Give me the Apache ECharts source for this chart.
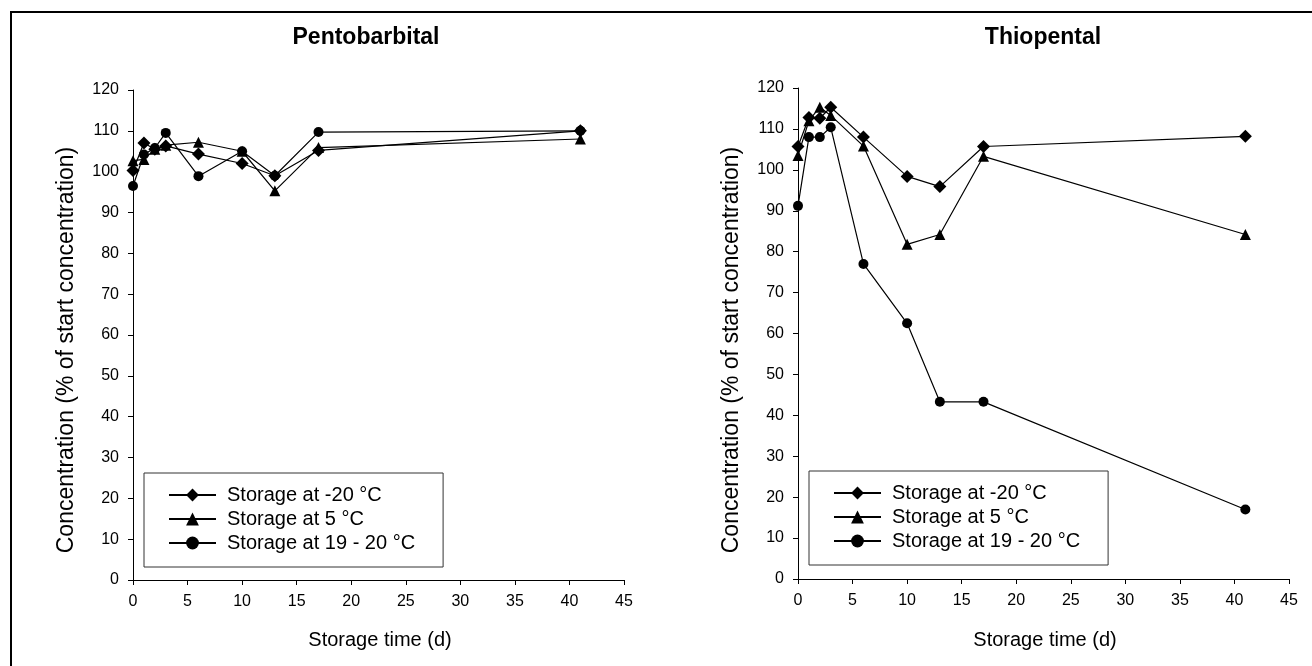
<!DOCTYPE html>
<html><head><meta charset="utf-8">
<script src="https://cdn.jsdelivr.net/npm/echarts@6/dist/echarts.min.js"></script>
<style>html,body{margin:0;padding:0;background:#fff}#c{width:1312px;height:666px}</style>
</head><body><div id="c"></div>
<script>
const days = [0, 1, 2, 3, 6, 10, 13, 17, 41];
const seriesNames = ['Storage at -20 °C', 'Storage at 5 °C', 'Storage at 19 - 20 °C'];
const pentoMinus20 = [100.3, 107.0, 105.5, 106.3, 104.3, 102.0, 99.0, 105.2, 110.0];
const pento5 = [102.7, 103.0, 105.5, 106.5, 107.2, 105.0, 95.3, 105.9, 108.0];
const pento19 = [96.5, 104.2, 105.8, 109.5, 98.9, 105.0, 99.0, 109.7, 110.0];
const thioMinus20 = [105.7, 112.8, 112.6, 115.3, 108.0, 98.4, 95.9, 105.7, 108.2];
const thio5 = [103.5, 112.0, 115.3, 113.3, 105.8, 81.8, 84.2, 103.3, 84.2];
const thio19 = [91.2, 108.0, 108.0, 110.4, 77.0, 62.5, 43.3, 43.3, 17.0];
const chartTitles = ['Pentobarbital', 'Thiopental'];
const yAxisTitle = 'Concentration (% of start concentration)';
const xAxisTitle = 'Storage time (d)';

const FONT = '"Liberation Sans", Arial, sans-serif';
const symbols = ['diamond', 'triangle', 'circle'];
const sizes = [13, 11, 10];

function pairs(ys) { return days.map((d, i) => [d, ys[i]]); }

function mkSeries(idx, arrs) {
  return arrs.map((ys, k) => ({
    type: 'line', name: seriesNames[k], xAxisIndex: idx, yAxisIndex: idx,
    data: pairs(ys), symbol: symbols[k], symbolSize: sizes[k], showSymbol: true,
    lineStyle: { color: '#000', width: 1.2 }, itemStyle: { color: '#000' },
    emphasis: { disabled: true }, animation: false, z: 3 + k
  }));
}

function xAxis(idx) {
  return {
    type: 'value', gridIndex: idx, min: 0, max: 45, interval: 5,
    axisLine: { lineStyle: { color: '#000', width: 1 } },
    axisTick: { show: true, length: 5, lineStyle: { color: '#000' } },
    axisLabel: { color: '#000', fontSize: 16, fontFamily: FONT, margin: 14 },
    splitLine: { show: false }
  };
}
function yAxis(idx) {
  return {
    type: 'value', gridIndex: idx, min: 0, max: 120, interval: 10,
    axisLine: { show: true, lineStyle: { color: '#000', width: 1 } },
    axisTick: { show: true, length: 5, lineStyle: { color: '#000' } },
    axisLabel: { color: '#000', fontSize: 16, fontFamily: FONT, margin: 14 },
    splitLine: { show: false }
  };
}
function legend(idx, left, top) {
  return {
    orient: 'vertical', left: left, top: top,
    data: seriesNames,
    itemWidth: 47, itemHeight: 16, itemGap: 4,
    padding: [12, 28, 14, 24],
    borderColor: '#333', borderWidth: 1, backgroundColor: '#fff',
    textStyle: { color: '#000', fontSize: 20, lineHeight: 20, fontFamily: FONT, padding: [0, 0, 0, 6] },
    selectedMode: false
  };
}

const chart = echarts.init(document.getElementById('c'), null, { renderer: 'canvas' });
chart.setOption({
  backgroundColor: '#fff',
  animation: false,
  grid: [
    { left: 133, right: 688, top: 90, bottom: 86 },
    { left: 798, right: 23, top: 88, bottom: 87 }
  ],
  xAxis: [xAxis(0), xAxis(1)],
  yAxis: [yAxis(0), yAxis(1)],
  legend: [legend(0, 144, 473), legend(1, 809, 471)],
  series: [].concat(
    mkSeries(0, [pentoMinus20, pento5, pento19]),
    mkSeries(1, [thioMinus20, thio5, thio19])
  ),
  graphic: [
    { type: 'line', shape: { x1: 11, y1: 12, x2: 11, y2: 666 }, style: { stroke: '#000', lineWidth: 2 } },
    { type: 'line', shape: { x1: 10, y1: 12, x2: 1312, y2: 12 }, style: { stroke: '#000', lineWidth: 2 } },
    { type: 'text', x: 366, y: 38, style: { text: chartTitles[0], font: 'bold 23px ' + FONT, fill: '#000', textAlign: 'center', textVerticalAlign: 'middle' } },
    { type: 'text', x: 1043, y: 38, style: { text: chartTitles[1], font: 'bold 23px ' + FONT, fill: '#000', textAlign: 'center', textVerticalAlign: 'middle' } },
    { type: 'text', x: 67, y: 350, rotation: Math.PI / 2, style: { text: yAxisTitle, font: '23px ' + FONT, fill: '#000', textAlign: 'center', textVerticalAlign: 'middle' } },
    { type: 'text', x: 732, y: 350, rotation: Math.PI / 2, style: { text: yAxisTitle, font: '23px ' + FONT, fill: '#000', textAlign: 'center', textVerticalAlign: 'middle' } },
    { type: 'text', x: 380, y: 640, style: { text: xAxisTitle, font: '20px ' + FONT, fill: '#000', textAlign: 'center', textVerticalAlign: 'middle' } },
    { type: 'text', x: 1045, y: 640, style: { text: xAxisTitle, font: '20px ' + FONT, fill: '#000', textAlign: 'center', textVerticalAlign: 'middle' } }
  ]
});
</script></body></html>
